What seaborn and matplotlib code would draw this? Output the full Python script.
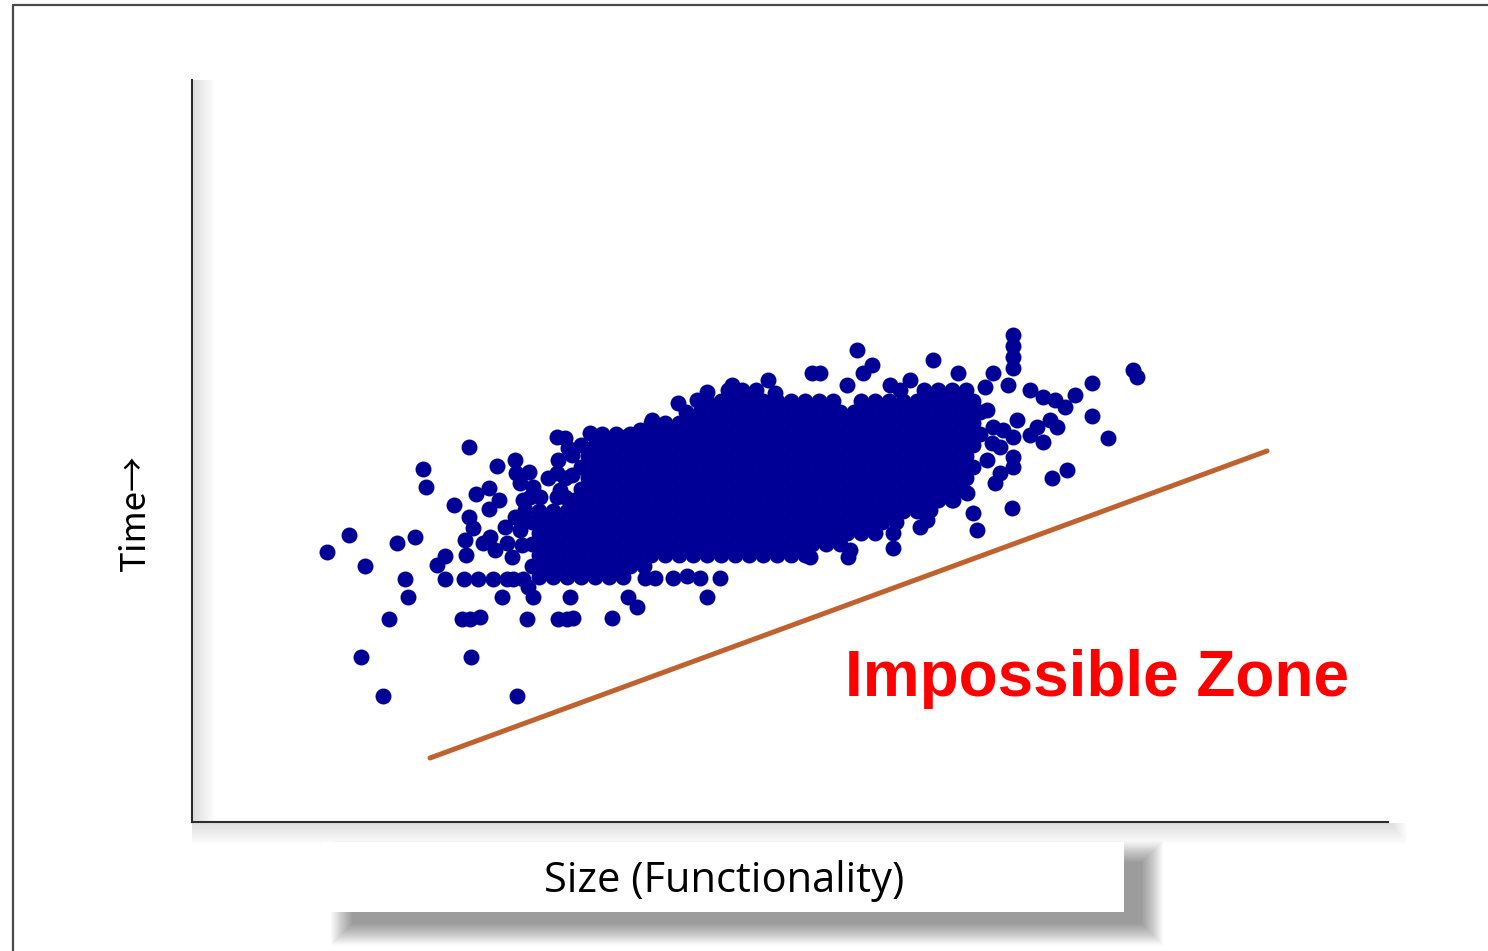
import matplotlib
matplotlib.use('Agg')
import matplotlib.pyplot as plt
import seaborn as sns
import pandas as pd
from matplotlib.patches import Rectangle
from matplotlib.lines import Line2D

# ---------------- data (size units, time units) ----------------
left_tail = [(327,448),(349,465),(365,434),(361,343),(383,304),(389,381),(397,457),(415,463),
             (405,421),(408,403),(423,531),(426,513),(437,435),(445,444),(445,421),(454,495),
             (462,381),(470,381),(480,383),(469,553),(471,343),(517,304),(464,421),(478,421),
             (493,421),(507,421),(513,421),(523,421),(502,403),(528,413),(533,403),(527,381),
             (558,381),(567,381),(573,382),(570,403),(612,382)]

left_cloud = [(497,534),(515,540),(476,506),(489,512),(499,500),(489,491),(469,483),(473,472),
              (465,460),(466,445),(483,457),(490,463),(495,450),(505,473),(515,483),(521,478),
              (507,457),(512,443),(520,470),(522,455),(525,490),(516,527),(529,528),(520,517),
              (533,513),(540,503),(530,503),(523,500),(557,527),(565,522),(557,503),(565,503),
              (557,563),(565,562),(568,552),(590,567),(558,540),(572,545),(572,525),(548,522),
              (560,510)]

lower_edge = [(645,422),(655,422),(673,422),(687,424),(700,422),(720,422),(628,403),(637,393),
              (707,403),(810,443),(848,443),(850,450),(893,452),(893,467),(927,480),(920,473),
              (930,490),(953,500),(973,487),(977,470),(967,507),(995,517),(1000,527),(1012,492),
              (1052,522),(1067,530)]

right_tail = [(987,540),(1013,543),(1013,533),(992,557),(993,573),(1003,570),(1013,563),(1030,565),
              (1043,558),(1017,580),(1037,573),(1050,580),(1057,573),(1008,615),(1030,610),(1043,603),
              (1055,600),(1065,593),(1075,605),(1092,617),(1092,584),(1108,562),(1133,630),(1137,623),
              (993,627),(1013,665),(1013,654),(1013,643),(1013,632),(985,613),(987,590),(1000,553)]

upper_edge = [(857,650),(768,620),(812,627),(820,627),(872,635),(863,627),(910,620),(933,640),
              (847,615),(890,615),(958,627),(775,607),(732,615),(707,608),(697,600),(678,597),
              (652,580),(640,570),(625,563),(900,610)]

core_time = [610, 599, 588, 577, 566, 555, 544, 533, 522, 511, 500, 489, 478, 467, 456, 445, 434, 423]
core_sizes = [
    [728,742,756,924,938,952,966],
    [707,721,735,749,763,777,791,805,819,833,861,875,889,903,917,931,945,959,973],
    [686,700,714,728,742,756,770,784,798,812,826,840,854,868,882,896,910,924,938,952,966,980],
    [651,665,679,693,707,721,735,749,763,777,791,805,819,833,847,861,875,889,903,917,931,945,959,973],
    [602,616,630,644,658,672,686,700,714,728,742,756,770,784,798,812,826,840,854,868,882,896,910,924,938,952,966,980],
    [581,595,609,623,637,651,665,679,693,707,721,735,749,763,777,791,805,819,833,847,861,875,889,903,917,931,945,959,973],
    [588,602,616,630,644,658,672,686,700,714,728,742,756,770,784,798,812,826,840,854,868,882,896,910,924,938,952,966],
    [581,595,609,623,637,651,665,679,693,707,721,735,749,763,777,791,805,819,833,847,861,875,889,903,917,931,945,959,973],
    [588,602,616,630,644,658,672,686,700,714,728,742,756,770,784,798,812,826,840,854,868,882,896,910,924,938,952,966],
    [581,595,609,623,637,651,665,679,693,707,721,735,749,763,777,791,805,819,833,847,861,875,889,903,917,931,945,959],
    [574,588,602,616,630,644,658,672,686,700,714,728,742,756,770,784,798,812,826,840,854,868,882,896,910,924,938,952],
    [539,553,567,581,595,609,623,637,651,665,679,693,707,721,735,749,763,777,791,805,819,833,847,861,875,889,903,917],
    [532,546,560,574,588,602,616,630,644,658,672,686,700,714,728,742,756,770,784,798,812,826,840,854,868,882,896],
    [539,553,567,581,595,609,623,637,651,665,679,693,707,721,735,749,763,777,791,805,819,833,847,861,875],
    [532,546,560,574,588,602,616,630,644,658,672,686,700,714,728,742,756,770,784,798,812,826,840],
    [539,553,567,581,595,609,623,637,651,665,679,693,707,721,735,749,763,777,791,805],
    [532,546,560,574,588,602,616,630,644],
    [539,553,567,581,595,609,623],
]

boundary_size = [430, 1267]
boundary_time = [242, 549]

x_label = "Size (Functionality)"
y_label = "Time\u2192"
zone_label = "Impossible Zone"

# ---------------- build table ----------------
pairs = left_tail + left_cloud + lower_edge + right_tail + upper_edge
for t, row in zip(core_time, core_sizes):
    pairs += [(s, t) for s in row]
df = pd.DataFrame(pairs, columns=["size", "time"])

# ---------------- figure ----------------
sns.set_theme(style="white")
plt.rcParams['font.family'] = ['Open Sans', 'DejaVu Sans']

W, H = 1488, 951
fig = plt.figure(figsize=(W / 100, H / 100), dpi=100)
fig.patch.set_facecolor('white')

# background layer in pixel coordinates for decorations
bg = fig.add_axes([0, 0, 1, 1], zorder=0)
bg.set_xlim(0, W)
bg.set_ylim(H, 0)
bg.axis('off')

# outer frame
bg.add_line(Line2D([13, 13], [5, H], color='#4a4a4a', lw=1.6))
bg.add_line(Line2D([13, W], [5, 5], color='#4a4a4a', lw=1.6))

# soft shadows along axis lines
for i in range(16):
    bg.add_patch(Rectangle((193, 80), 2 + i * 1.3, 742, color='black', alpha=0.007, lw=0))
    bg.add_patch(Rectangle((192, 823), 1200 + i, 2 + i * 1.3, color='black', alpha=0.007, lw=0))

# x-label box shadow + box
for i in range(22):
    bg.add_patch(Rectangle((352 - i, 862 - i), 790 + 2 * i, 62 + 2 * i,
                           color='black', alpha=0.02, lw=0))
bg.add_patch(Rectangle((322, 842), 802, 70, color='white', lw=0))
bg.text(724, 881, x_label, ha='center', va='center', fontsize=30, color='black',
        family=['Open Sans', 'DejaVu Sans'])

# main axes
ax = fig.add_axes([192 / W, 1 - 822 / H, (1388 - 192) / W, (822 - 80) / H], zorder=1)
ax.set_facecolor('none')

sns.scatterplot(data=df, x="size", y="time", s=132, color='#000096', linewidth=0,
                legend=False, ax=ax)
sns.lineplot(x=boundary_size, y=boundary_time, color='#C0622F', lw=3.6, ax=ax)

ax.set_xlim(192, 1388)
ax.set_ylim(178, 920)
ax.set_xticks([])
ax.set_yticks([])
ax.set_xlabel('')
ax.set_ylabel('')
for side in ['top', 'right']:
    ax.spines[side].set_visible(False)
for side in ['left', 'bottom']:
    ax.spines[side].set_color('#2b2b2b')
    ax.spines[side].set_linewidth(1.5)

ax.text(845, 304, zone_label, color='#FF0000', fontsize=46, fontweight='bold',
        family=['Liberation Sans', 'DejaVu Sans'], ha='left', va='baseline')

fig.text(135 / W, 1 - 513 / H, y_label, rotation=90, ha='center', va='center',
         fontsize=25, color='black', family=['Noto Sans CJK SC', 'DejaVu Sans'])

fig.savefig('out.png', dpi=100, facecolor='white')
